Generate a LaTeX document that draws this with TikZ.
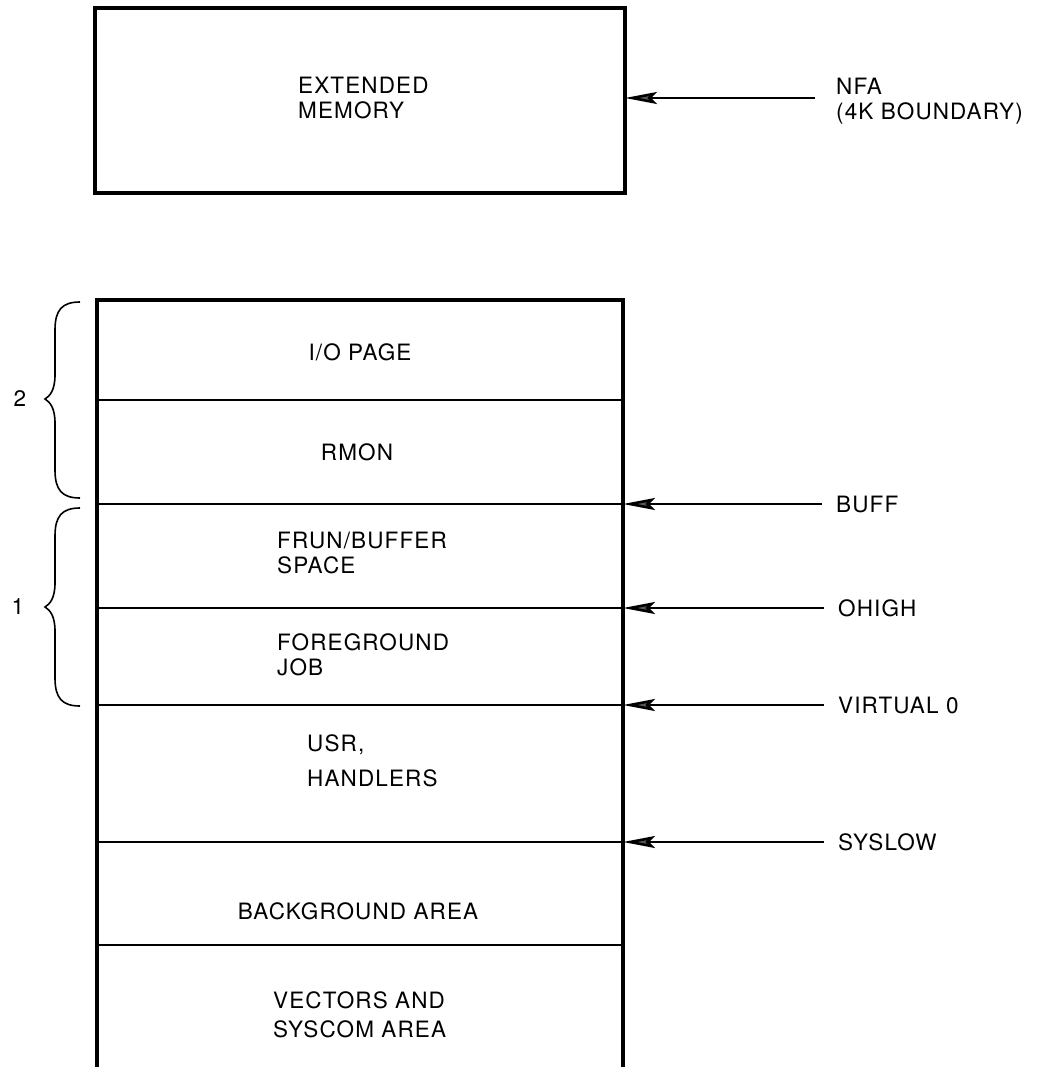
\documentclass[tikz,border=0pt]{standalone}
\usepackage{fontspec}
\setmainfont{TeX Gyre Heros}[LetterSpace=5]
\usetikzlibrary{arrows.meta}
\tikzset{
  lbl/.style={font=\fontsize{22.5}{25}\selectfont, inner sep=0pt, align=left},
  ctr/.style={font=\fontsize{22.5}{25}\selectfont, inner sep=0pt, align=center},
  boxline/.style={line width=3.6pt},
  divline/.style={line width=2.6pt},
  ptr/.style={line width=2.6pt, -{Stealth[length=32pt, width=12pt, inset=6pt, fill=black!65]}},
  brc/.style={line width=1.6pt},
}
\begin{document}
\begin{tikzpicture}[x=1pt, y=-1pt]
\useasboundingbox (0,0) rectangle (1047,1067);
% top box
\draw[boxline] (95,8) rectangle (625,193);
\node[lbl, anchor=west] (ext) at (298,98) {EXTENDED\\MEMORY};
\coordinate (nfaE) at (625,98);
\coordinate (nfaT) at (815,98);
\node[lbl, anchor=west] (nfa) at (836,101) {NFA\\(4K BOUNDARY)};
\draw[ptr] (nfaT) -- (nfaE);
% lower box
\draw[boxline] (97,1067) -- (97,300) -- (623,300) -- (623,1067);
\foreach \y in {400,504,608,705,842,945} \draw[divline] (97,\y) -- (623,\y);
\node[ctr] (io) at (360,352) {I/O PAGE};
\node[ctr] (rmon) at (357,452) {RMON};
\node[lbl, anchor=west] (frun) at (277,553) {FRUN/BUFFER\\SPACE};
\node[lbl, anchor=west] (fg) at (277,655) {FOREGROUND\\JOB};
\node[lbl, anchor=west] (usr) at (307,761) {USR,\\[10pt]HANDLERS};
\node[ctr] (bg) at (358,911) {BACKGROUND AREA};
\node[lbl, anchor=west] (vec) at (273,1015) {VECTORS AND\\[4pt]SYSCOM AREA};
% pointers
\node[lbl, anchor=west] (buff) at (836,504) {BUFF};
\node[lbl, anchor=west] (ohigh) at (838,608) {OHIGH};
\node[lbl, anchor=west] (v0) at (838,705) {VIRTUAL 0};
\node[lbl, anchor=west] (syslow) at (838,842) {SYSLOW};
\coordinate (buffE) at (623,504);
\coordinate (ohighE) at (623,608);
\coordinate (v0E) at (623,705);
\coordinate (syslowE) at (623,842);
\draw[ptr] ([xshift=-14pt]buff.west) -- (buffE);
\draw[ptr] ([xshift=-14pt]ohigh.west) -- (ohighE);
\draw[ptr] ([xshift=-14pt]v0.west) -- (v0E);
\draw[ptr] ([xshift=-14pt]syslow.west) -- (syslowE);
% braces
\draw[brc] (80,302) .. controls (62,302) and (55,310) .. (55,330) -- (55,375)
  .. controls (55,390) and (50,396) .. (45,399)
  .. controls (50,402) and (55,408) .. (55,423) -- (55,470)
  .. controls (55,490) and (62,498) .. (80,498);
\draw[brc] (80,508) .. controls (62,508) and (55,516) .. (55,536) -- (55,583)
  .. controls (55,598) and (50,604) .. (45,607)
  .. controls (50,610) and (55,616) .. (55,631) -- (55,678)
  .. controls (55,698) and (62,706) .. (80,706);
\node[ctr] (two) at (20,399) {2};
\node[ctr] (one) at (18,607) {1};
\end{tikzpicture}
\end{document}
